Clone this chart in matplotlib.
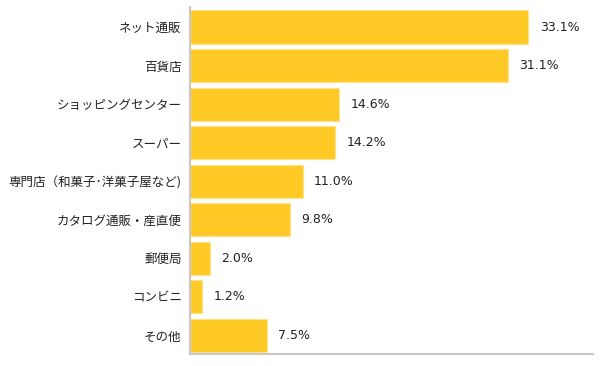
import matplotlib
matplotlib.use('Agg')
import matplotlib.pyplot as plt

plt.rcParams['font.family'] = ['Noto Sans CJK JP', 'DejaVu Sans']

categories = ['ネット通販', '百貨店', 'ショッピングセンター', 'スーパー',
              '専門店（和菓子･洋菓子屋など)', 'カタログ通販・産直便', '郵便局', 'コンビニ', 'その他']
values = [33.1, 31.1, 14.6, 14.2, 11.0, 9.8, 2.0, 1.2, 7.5]
value_labels = ['33.1%', '31.1%', '14.6%', '14.2%', '11.0%', '9.8%', '2.0%', '1.2%', '7.5%']

fig = plt.figure(figsize=(6, 3.66), dpi=100)
ax = fig.add_axes([0.3167, 0.033, 0.6715, 0.948])

pos = list(range(len(categories)))[::-1]
ax.barh(pos, values, height=0.86, color='#FFC926', edgecolor='#FFE38A', linewidth=0.8)

for p, v, lab in zip(pos, values, value_labels):
    ax.annotate(lab, (v, p), xytext=(8, 0), textcoords='offset points',
                va='center', ha='left', fontsize=9, color='#222222',
                family=['DejaVu Sans'])

ax.set_yticks(pos)
ax.set_yticklabels(categories, fontsize=9, color='#222222')
ax.set_xlim(0, 39.4)
ax.set_ylim(-0.48, 8.52)
ax.set_xticks([])
ax.tick_params(axis='y', length=0, pad=6)
for s in ['top', 'right']:
    ax.spines[s].set_visible(False)
for s in ['left', 'bottom']:
    ax.spines[s].set_color('#c8c8c8')
    ax.spines[s].set_linewidth(1.5)

fig.savefig('out.png', dpi=100)
